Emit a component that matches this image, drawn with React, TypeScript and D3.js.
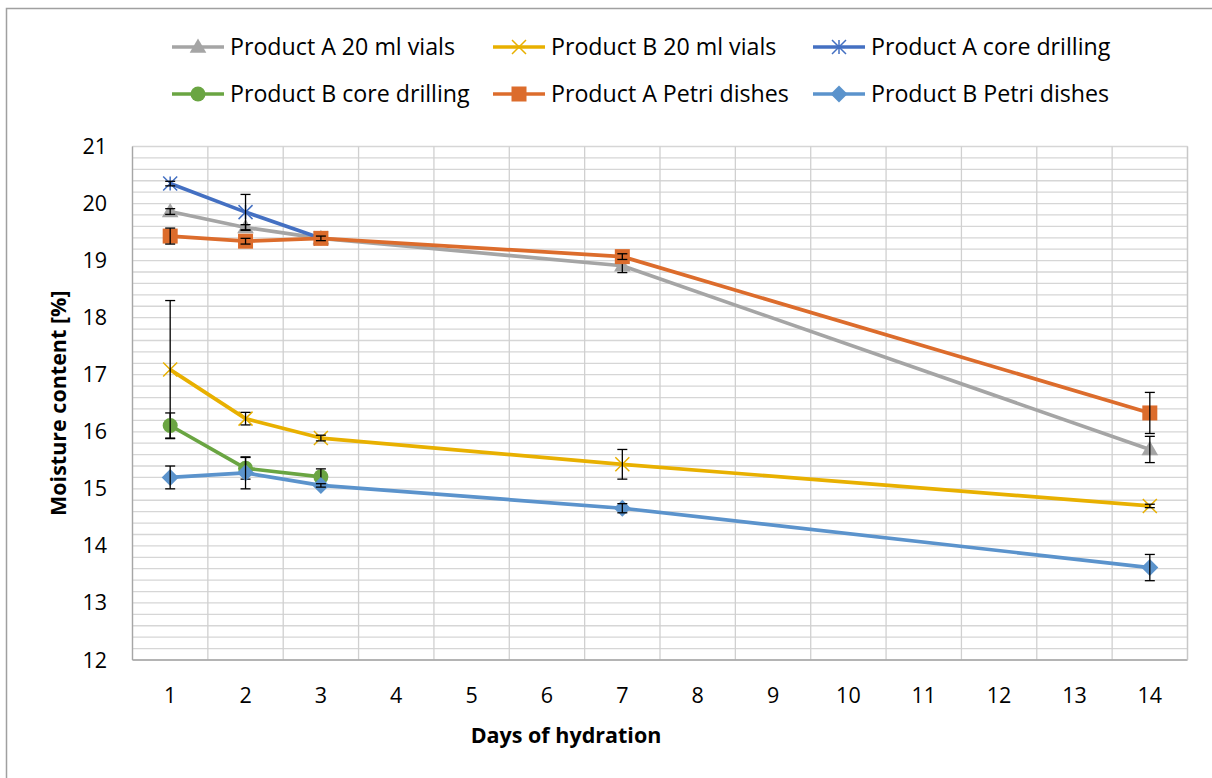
import React from "react";
import * as d3 from "d3";

const days = [1, 2, 3, 7, 14];
const xTicks = [1, 2, 3, 4, 5, 6, 7, 8, 9, 10, 11, 12, 13, 14];
const yTicks = [12, 13, 14, 15, 16, 17, 18, 19, 20, 21];

const aVials = [19.86, 19.58, 19.39, 18.91, 15.69];
const aVialsErr = [0.05, 0.05, 0.03, 0.12, 0.23];
const bVials = [17.09, 16.23, 15.89, 15.43, 14.7];
const bVialsErr = [1.21, 0.11, 0.05, 0.26, 0.03];
const aCore = [20.35, 19.85, 19.39];
const aCoreErr = [0.04, 0.31, 0.02];
const bCore = [16.11, 15.36, 15.21];
const bCoreErr = [0.22, 0.19, 0.14];
const aPetri = [19.43, 19.34, 19.39, 19.07, 16.33];
const aPetriErr = [0.14, 0.05, 0.04, 0.05, 0.36];
const bPetri = [15.2, 15.28, 15.06, 14.66, 13.62];
const bPetriErr = [0.2, 0.28, 0.03, 0.08, 0.23];

type Marker = "triangle" | "x" | "star" | "circle" | "square" | "diamond";
const series: { name: string; color: string; marker: Marker; values: number[]; err: number[] }[] = [
  { name: "Product A 20 ml vials", color: "#a5a5a5", marker: "triangle", values: aVials, err: aVialsErr },
  { name: "Product B 20 ml vials", color: "#e8b000", marker: "x", values: bVials, err: bVialsErr },
  { name: "Product A core drilling", color: "#4470c2", marker: "star", values: aCore, err: aCoreErr },
  { name: "Product B core drilling", color: "#6aa542", marker: "circle", values: bCore, err: bCoreErr },
  { name: "Product A Petri dishes", color: "#dc6c2c", marker: "square", values: aPetri, err: aPetriErr },
  { name: "Product B Petri dishes", color: "#5b93cc", marker: "diamond", values: bPetri, err: bPetriErr },
];

const FONT = "'Open Sans', Lato, sans-serif";
const FS = 21.5;
const LFS = 23.2;

function MarkerShape({ type, cx, cy, color, scale = 1 }: { type: Marker; cx: number; cy: number; color: string; scale?: number }) {
  const s = scale;
  switch (type) {
    case "triangle":
      return <path d={d3.symbol(d3.symbolTriangle, 120 * s * s)()!} transform={`translate(${cx},${cy + 1})`} fill={color} />;
    case "square":
      return <rect x={cx - 7.5 * s} y={cy - 7.5 * s} width={15 * s} height={15 * s} fill={color} />;
    case "circle":
      return <circle cx={cx} cy={cy} r={7.5 * s} fill={color} />;
    case "diamond":
      return <path d={`M${cx},${cy - 8.5 * s}L${cx + 8.5 * s},${cy}L${cx},${cy + 8.5 * s}L${cx - 8.5 * s},${cy}Z`} fill={color} />;
    case "x": {
      const r = 7 * s;
      return (
        <path d={`M${cx - r},${cy - r}L${cx + r},${cy + r}M${cx - r},${cy + r}L${cx + r},${cy - r}`} stroke={color} strokeWidth={1.5} fill="none" />
      );
    }
    case "star": {
      const r = 7 * s;
      return (
        <path
          d={`M${cx - r},${cy - r}L${cx + r},${cy + r}M${cx - r},${cy + r}L${cx + r},${cy - r}M${cx},${cy - r}L${cx},${cy + r}`}
          stroke={color}
          strokeWidth={1.5}
          fill="none"
        />
      );
    }
  }
}

export default function App() {
  const W = 1212;
  const H = 778;
  const x = d3.scaleLinear().domain([0.5, 14.5]).range([132.5, 1187.5]);
  const y = d3.scaleLinear().domain([12, 21]).range([660, 146.5]);
  const minor = d3.range(12, 21.0001, 0.2).map((v) => Math.round(v * 10) / 10);
  const vLines = d3.range(0.5, 14.6, 1);
  const line = d3.line<[number, number]>().x((d) => x(d[0])).y((d) => y(d[1]));

  const legendCols = [172, 493, 813];
  const legendRows = [47, 94];

  return (
    <svg width={W} height={H} style={{ position: "absolute", left: 0, top: 0 }}>
      <rect x={0} y={0} width={W} height={H} fill="#fff" />
      <rect x={6.5} y={8.5} width={W + 10} height={H + 10} fill="none" stroke="#a0a0a0" strokeWidth={1.5} />
      {minor.map((v) => (
        <line key={"h" + v} x1={x(0.5)} x2={x(14.5)} y1={y(v)} y2={y(v)} stroke="#d6d6d6" strokeWidth={1.3} />
      ))}
      {vLines.map((v) => (
        <line key={"v" + v} x1={x(v)} x2={x(v)} y1={y(21)} y2={y(12)} stroke="#d0d0d0" strokeWidth={1.3} />
      ))}
      <line x1={x(0.5)} x2={x(0.5)} y1={y(21)} y2={y(12)} stroke="#a6a6a6" strokeWidth={1.3} />
      <line x1={x(0.5)} x2={x(14.5)} y1={y(12)} y2={y(12)} stroke="#a6a6a6" strokeWidth={1.3} />
      <line x1={x(14.5)} x2={x(14.5)} y1={y(21)} y2={y(12)} stroke="#c8c8c8" strokeWidth={1.3} />
      {yTicks.map((t) => (
        <text key={"yt" + t} x={107} y={y(t)} dy="0.35em" textAnchor="end" fontFamily={FONT} fontSize={FS} fill="#000">
          {t}
        </text>
      ))}
      {xTicks.map((t) => (
        <text key={"xt" + t} x={x(t)} y={695} dy="0.35em" textAnchor="middle" fontFamily={FONT} fontSize={FS} fill="#000">
          {t}
        </text>
      ))}
      <text x={566} y={735} dy="0.35em" textAnchor="middle" fontFamily={FONT} fontSize={FS} fontWeight="bold">
        Days of hydration
      </text>
      <text
        transform={`translate(58,${(y(21) + y(12)) / 2}) rotate(-90)`}
        dy="0.35em"
        textAnchor="middle"
        fontFamily={FONT}
        fontSize={FS}
        fontWeight="bold"
      >
        Moisture content [%]
      </text>
      {series.map((s) => {
        const pts = s.values.map((v, i) => [days[i], v] as [number, number]);
        return (
          <g key={s.name}>
            <path d={line(pts)!} fill="none" stroke={s.color} strokeWidth={3.7} strokeLinejoin="round" />
            {pts.map((p, i) => (
              <MarkerShape key={i} type={s.marker} cx={x(p[0])} cy={y(p[1])} color={s.color} />
            ))}
            {pts.map((p, i) => {
              const cx = x(p[0]);
              const top = y(p[1] + s.err[i]);
              const bot = y(p[1] - s.err[i]);
              return (
                <g key={"e" + i} stroke="#000" strokeWidth={1.3}>
                  <line x1={cx} x2={cx} y1={top} y2={bot} />
                  <line x1={cx - 5} x2={cx + 5} y1={top} y2={top} />
                  <line x1={cx - 5} x2={cx + 5} y1={bot} y2={bot} />
                </g>
              );
            })}
          </g>
        );
      })}
      {series.map((s, i) => {
        const lx = legendCols[i % 3];
        const ly = legendRows[Math.floor(i / 3)];
        return (
          <g key={"lg" + i}>
            <line x1={lx} x2={lx + 52} y1={ly} y2={ly} stroke={s.color} strokeWidth={3.7} />
            <MarkerShape type={s.marker} cx={lx + 26} cy={ly} color={s.color} />
            <text x={lx + 58} y={ly} dy="0.35em" fontFamily={FONT} fontSize={LFS} fill="#000">
              {s.name}
            </text>
          </g>
        );
      })}
    </svg>
  );
}
